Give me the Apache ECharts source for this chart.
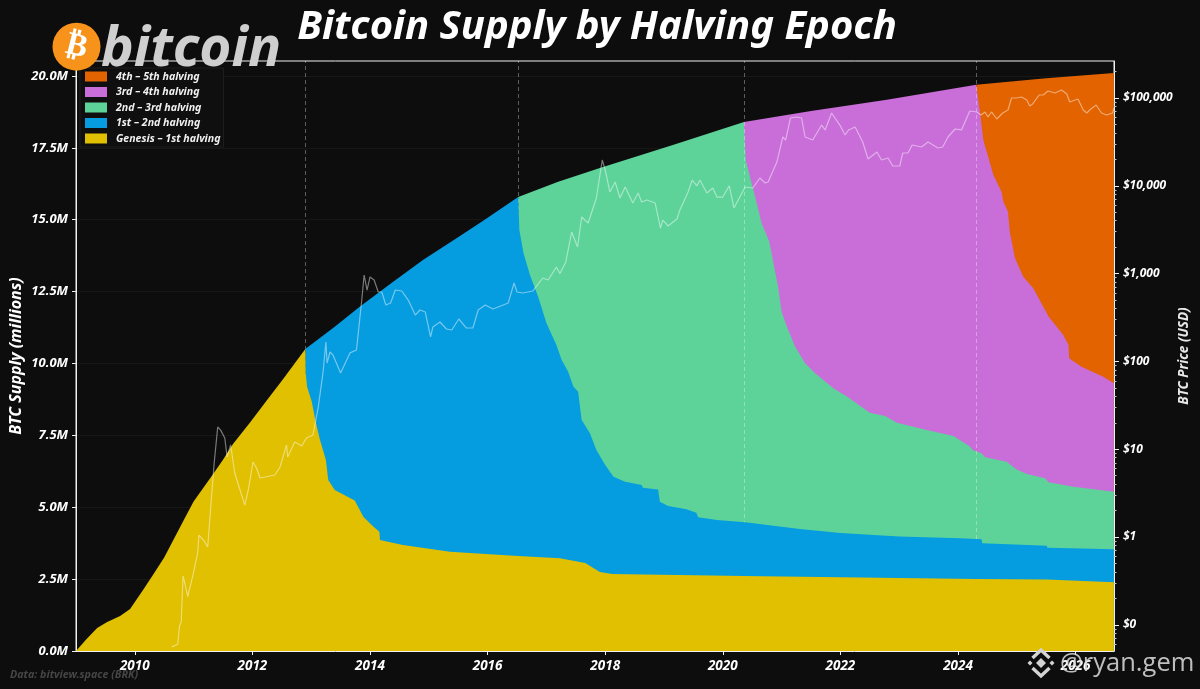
<!DOCTYPE html>
<html><head><meta charset="utf-8">
<style>html,body{margin:0;padding:0;background:#0d0d0d}#c{width:1200px;height:689px}</style>
<script src="https://cdn.jsdelivr.net/npm/echarts@6/dist/echarts.min.js"></script>
</head><body><div id="c"></div>
<script>
var epochNames = ['Genesis – 1st halving','1st – 2nd halving','2nd – 3rd halving','3rd – 4th halving','4th – 5th halving'];
var epochColors = ['#e0c000','#059ce0','#5dd39a','#c96dd9','#e26300'];
var halvings = [2012.9,2016.52,2020.36,2024.31];
var supplyTicks = [0,2.5,5,7.5,10,12.5,15,17.5,20];
var priceTicks = [0.1,1,10,100,1000,10000,100000];
var yearTicks = [2010,2012,2014,2016,2018,2020,2022,2024,2026];

// total circulating supply (M)
var totalYears = [2009,2009.18,2009.36,2009.53,2009.75,2009.92,2010.14,2010.3,2010.5,2010.82,2011,2011.33,2011.5,2011.67,2011.96,2012.24,2012.52,2012.9,2013.4,2013.83,2014.4,2014.9,2015.53,2015.95,2016.52,2017.2,2017.91,2019.15,2020.36,2021.5,2022.79,2024.31,2025.5,2026.65];
var totalSupply = [0,0.42,0.8,1.01,1.22,1.46,2.12,2.62,3.25,4.5,5.2,6.15,6.65,7.2,7.95,8.7,9.45,10.5,11.28,11.98,12.85,13.6,14.43,15,15.79,16.32,16.8,17.6,18.4,18.78,19.17,19.69,19.92,20.1];

// cumulative supply still held, up to each epoch, after that epoch closed (M)
var genesisYears = [2012.906,2012.93,2013.01,2013.08,2013.15,2013.25,2013.29,2013.4,2013.74,2013.89,2014.06,2014.16,2014.17,2014.56,2015.36,2016.52,2017.23,2017.66,2017.91,2018.12,2020.36,2024.31,2025.51,2025.52,2026.65];
var genesisHeld = [9.67,9.19,8.67,7.93,7.34,6.64,5.95,5.6,5.23,4.66,4.32,4.15,3.86,3.69,3.45,3.3,3.23,3.06,2.75,2.68,2.61,2.5,2.49,2.43,2.39];
var firstYears = [2016.54,2016.61,2016.72,2016.86,2017,2017.17,2017.26,2017.37,2017.46,2017.54,2017.57,2017.6,2017.74,2017.85,2018,2018.14,2018.34,2018.62,2018.64,2018.9,2018.93,2019.07,2019.38,2019.55,2019.58,2019.9,2020.38,2021.31,2022,2023,2024.03,2024.4,2024.41,2025.51,2025.52,2026.65];
var firstHeld = [14.64,13.84,13.08,12.32,11.41,10.64,10.12,9.71,9.19,9.02,8.5,8.03,7.57,6.99,6.47,6.06,5.89,5.77,5.68,5.62,5.19,5.04,4.93,4.81,4.65,4.56,4.48,4.24,4.1,3.98,3.92,3.89,3.75,3.66,3.59,3.54];
var secondYears = [2020.39,2020.49,2020.55,2020.66,2020.79,2020.86,2020.94,2021,2021.09,2021.23,2021.4,2021.57,2021.88,2022.11,2022.5,2022.76,2022.96,2023.47,2023.92,2024.03,2024.2,2024.25,2024.4,2024.46,2024.83,2024.99,2025.17,2025.48,2025.54,2025.96,2026.65];
var secondHeld = [17.08,16.27,15.8,14.88,14.24,13.5,12.67,11.8,11.28,10.58,10.01,9.66,9.14,8.85,8.29,8.17,7.94,7.69,7.48,7.34,7.11,6.99,6.88,6.74,6.58,6.32,6.16,6.01,5.87,5.71,5.54];
var thirdYears = [2024.39,2024.43,2024.52,2024.6,2024.74,2024.77,2024.85,2024.88,2024.97,2025.11,2025.28,2025.54,2025.79,2025.88,2025.89,2026.1,2026.47,2026.65];
var thirdHeld = [18.47,17.77,17.14,16.56,15.97,15.63,15.28,14.58,13.66,13.02,12.62,11.63,10.99,10.64,10.18,9.89,9.54,9.31];

// BTC price (USD)
var priceYears = [2010.63,2010.73,2010.76,2010.79,2010.82,2010.85,2010.9,2010.99,2011.07,2011.09,2011.18,2011.24,2011.31,2011.35,2011.41,2011.46,2011.53,2011.57,2011.63,2011.7,2011.79,2011.87,2011.93,2012.01,2012.07,2012.13,2012.21,2012.38,2012.47,2012.58,2012.6,2012.72,2012.84,2012.92,2013.03,2013.12,2013.2,2013.25,2013.27,2013.32,2013.37,2013.5,2013.66,2013.77,2013.86,2013.9,2013.95,2014,2014.07,2014.14,2014.2,2014.27,2014.35,2014.43,2014.54,2014.65,2014.77,2014.85,2014.94,2015.03,2015.07,2015.19,2015.3,2015.39,2015.51,2015.64,2015.75,2015.84,2015.96,2016.09,2016.18,2016.35,2016.45,2016.5,2016.6,2016.77,2016.94,2017.03,2017.17,2017.23,2017.33,2017.43,2017.53,2017.6,2017.71,2017.85,2017.95,2018,2018.08,2018.17,2018.25,2018.34,2018.47,2018.56,2018.62,2018.71,2018.85,2018.94,2018.98,2019.07,2019.22,2019.27,2019.41,2019.48,2019.56,2019.61,2019.73,2019.83,2019.9,2020,2020.11,2020.19,2020.38,2020.51,2020.63,2020.72,2020.77,2020.92,2021.02,2021.07,2021.15,2021.25,2021.34,2021.4,2021.53,2021.68,2021.74,2021.85,2021.99,2022.08,2022.14,2022.25,2022.38,2022.47,2022.62,2022.7,2022.81,2022.89,2023.01,2023.06,2023.15,2023.22,2023.38,2023.49,2023.66,2023.74,2023.83,2023.95,2024.06,2024.2,2024.32,2024.39,2024.46,2024.51,2024.57,2024.66,2024.76,2024.85,2024.91,2024.99,2025.08,2025.17,2025.22,2025.27,2025.38,2025.45,2025.53,2025.65,2025.76,2025.85,2025.9,2026.04,2026.13,2026.19,2026.24,2026.35,2026.44,2026.53,2026.63,2026.65];
var priceUsd = [0.056,0.06,0.097,0.108,0.36,0.3,0.21,0.37,0.66,1.05,0.9,0.77,3.17,6.96,17.9,16.5,13.4,8.15,11.2,5.36,3.43,2.31,3.43,7.15,6.11,4.7,4.82,5.08,6.27,11.2,8.15,12.1,10.9,13.4,14.5,30.2,73.8,166,95.9,128,118,73.8,125,135,500,964,650,915,845,617,617,439,462,650,634,500,337,385,365,190,247,281,234,228,304,240,240,385,439,395,417,462,782,617,601,634,891,845,1189,1000,1356,2978,2010,4416,3767,7261,19680,15140,8494,11050,7261,9690,6368,8280,6530,6890,6368,3306,4076,3483,4187,5297,8494,11640,10000,11640,8280,9440,7450,7450,10000,5585,9690,9440,12270,10770,11050,18660,35950,33250,59160,60810,59160,35950,33250,49200,43250,67450,49200,37900,43250,46740,31550,20180,24270,19680,20730,16810,16810,23640,23640,29150,27680,31550,26970,27680,35950,44360,43250,71100,69300,64000,69300,60810,69300,57650,67450,72980,100000,100000,102600,94900,81100,85500,108200,108200,120100,114000,123400,111100,89990,97500,72980,67450,72980,83200,67450,64000,67450,76900];

function zip(a,b){return a.map(function(v,i){return [v,b[i]];});}
function topBetween(from,to){
  return zip(totalYears,totalSupply).filter(function(p){return p[0]>=from-0.001&&p[0]<=to+0.001;});
}
var end = totalYears[totalYears.length-1];
var bands = [
  topBetween(2009,halvings[0]).concat(zip(genesisYears,genesisHeld)),
  topBetween(halvings[0],halvings[1]).concat(zip(firstYears,firstHeld)),
  topBetween(halvings[1],halvings[2]).concat(zip(secondYears,secondHeld)),
  topBetween(halvings[2],halvings[3]).concat(zip(thirdYears,thirdHeld)),
  topBetween(halvings[3],end)
];
var FONT = '"Noto Sans","Open Sans",sans-serif';
var series = [];
for (var i=4;i>=0;i--){
  series.push({name:epochNames[i],type:'line',yAxisIndex:0,data:bands[i],showSymbol:false,symbol:'none',silent:true,animation:false,
    z:2+(4-i),lineStyle:{width:0},itemStyle:{color:epochColors[i]},areaStyle:{color:epochColors[i],opacity:1}});
}
series.push({name:'BTC Price',type:'line',yAxisIndex:1,data:zip(priceYears,priceUsd),showSymbol:false,symbol:'none',silent:true,animation:false,z:10,
  lineStyle:{width:1.2,color:'rgba(255,255,255,0.45)'},itemStyle:{color:'rgba(255,255,255,0.45)'},
  markLine:{silent:true,symbol:'none',animation:false,label:{show:false},
    lineStyle:{type:[4,3],width:0.8,color:'rgba(255,255,255,0.42)'},
    data:halvings.map(function(h){return {xAxis:h};})}});

var minorPrice=[];
[0.1,1,10,100,1000,10000,100000].forEach(function(d){for(var k=2;k<=9;k++)minorPrice.push(d*k);});
minorPrice.push(0.06,0.07,0.08,0.09);

var labelStyle={color:'#fff',fontSize:13,fontWeight:'bold',fontStyle:'italic',fontFamily:FONT};
var chart=echarts.init(document.getElementById('c'),null,{renderer:'canvas'});
chart.setOption({
  animation:false,
  backgroundColor:'#0d0d0d',
  grid:{left:76,top:61,width:1038,height:590,outerBoundsMode:'none',show:true,borderColor:'#f0f0f0',borderWidth:1,backgroundColor:'transparent'},
  legend:{show:true,orient:'vertical',left:80,top:68,padding:[3,3,3,5],itemWidth:22,itemHeight:10,itemGap:4.5,
    data:epochNames.slice().reverse(),icon:'rect',backgroundColor:'#0f0f0f',borderColor:'#1f1f1f',borderWidth:1,
    textStyle:{color:'#f0f0f0',fontSize:10.6,fontWeight:'bold',fontStyle:'italic',fontFamily:FONT,lineHeight:10,padding:[0,0,0,4]}},
  xAxis:{type:'value',min:2009,max:2026.653,
    axisLine:{show:true,onZero:false,lineStyle:{color:'#f0f0f0',width:1}},
    axisTick:{show:true,length:4,customValues:yearTicks,lineStyle:{color:'#f0f0f0'}},
    axisLabel:Object.assign({margin:8,customValues:yearTicks,formatter:function(v){return String(v);}},labelStyle,{fontSize:13.5}),
    splitLine:{show:false}},
  yAxis:[
    {type:'value',min:0,max:20.52,position:'left',name:'BTC Supply (millions)',nameLocation:'middle',nameGap:60,nameMoveOverlap:false,nameRotate:90,
      nameTextStyle:{color:'#fff',fontSize:16,fontWeight:'bold',fontStyle:'italic',fontFamily:FONT,verticalAlign:'middle'},
      axisLine:{show:true,lineStyle:{color:'#f0f0f0'}},
      axisTick:{show:true,length:4,customValues:supplyTicks,lineStyle:{color:'#f0f0f0'}},
      axisLabel:Object.assign({margin:8,customValues:supplyTicks,formatter:function(v){return v.toFixed(1)+'M';}},labelStyle),
      splitLine:{show:true,lineStyle:{color:'#171717',width:1}}},
    {type:'log',logBase:10,min:0.0503,max:263900,position:'right',name:'BTC Price (USD)',nameLocation:'middle',nameGap:70,nameMoveOverlap:false,nameRotate:90,
      nameTextStyle:{color:'#e8e8e8',fontSize:13.5,fontWeight:'bold',fontStyle:'italic',fontFamily:FONT,verticalAlign:'middle'},
      axisLine:{show:true,lineStyle:{color:'#f0f0f0'}},
      axisTick:{show:true,length:5,customValues:priceTicks,lineStyle:{color:'#f0f0f0'}},
      axisLabel:Object.assign({margin:9,customValues:priceTicks,formatter:function(v){return '$'+Math.round(v).toLocaleString('en-US');}},labelStyle,{fontSize:12}),
      splitLine:{show:false}},
    {type:'log',logBase:10,min:0.0503,max:263900,position:'right',
      axisLine:{show:false},
      axisTick:{show:true,length:2.5,customValues:minorPrice,lineStyle:{color:'#c8c8c8'}},
      axisLabel:{show:false},splitLine:{show:false}}
  ],
  series:series,
  graphic:[
    {type:'text',z:50,style:{text:'Bitcoin Supply by Halving Epoch',x:597,y:28,align:'center',verticalAlign:'middle',fill:'#fff',font:'italic bold 40px '+FONT}},
    {type:'circle',z:60,shape:{cx:76.5,cy:46.7,r:24},style:{fill:'#f7931a'}},
    {type:'text',z:61,x:76.5,y:46.7,rotation:-0.24,style:{text:'₿',x:0,y:0,align:'center',verticalAlign:'middle',fill:'#fff',font:'bold 32px "DejaVu Sans"'}},
    {type:'text',z:61,style:{text:'bitcoin',x:101,y:50,align:'left',verticalAlign:'middle',fill:'#cfcfcf',font:'italic bold 55px '+FONT}},
    {type:'text',z:60,style:{text:'Data: bitview.space (BRK)',x:10,y:675,align:'left',verticalAlign:'middle',fill:'#464646',font:'italic bold 10.7px '+FONT}},
    {type:'text',z:60,style:{text:'@ryan.gem',x:1060,y:664,align:'left',verticalAlign:'middle',fill:'rgba(215,215,215,0.88)',font:'25.5px "Open Sans"'}},
    {type:'polyline',z:60,shape:{points:[[1032.5,658],[1041,650],[1049.5,658]]},style:{stroke:'#d4d4d4',lineWidth:3.4,fill:null}},
    {type:'polyline',z:60,shape:{points:[[1032.5,668],[1041,676],[1049.5,668]]},style:{stroke:'#d4d4d4',lineWidth:3.4,fill:null}},
    {type:'polygon',z:60,shape:{points:[[1041,658],[1046,663],[1041,668],[1036,663]]},style:{fill:'#d4d4d4'}},
    {type:'polygon',z:60,shape:{points:[[1030,660.5],[1032.5,663],[1030,665.5],[1027.5,663]]},style:{fill:'#d4d4d4'}},
    {type:'polygon',z:60,shape:{points:[[1052,660.5],[1054.5,663],[1052,665.5],[1049.5,663]]},style:{fill:'#d4d4d4'}}
  ]
});
</script></body></html>
